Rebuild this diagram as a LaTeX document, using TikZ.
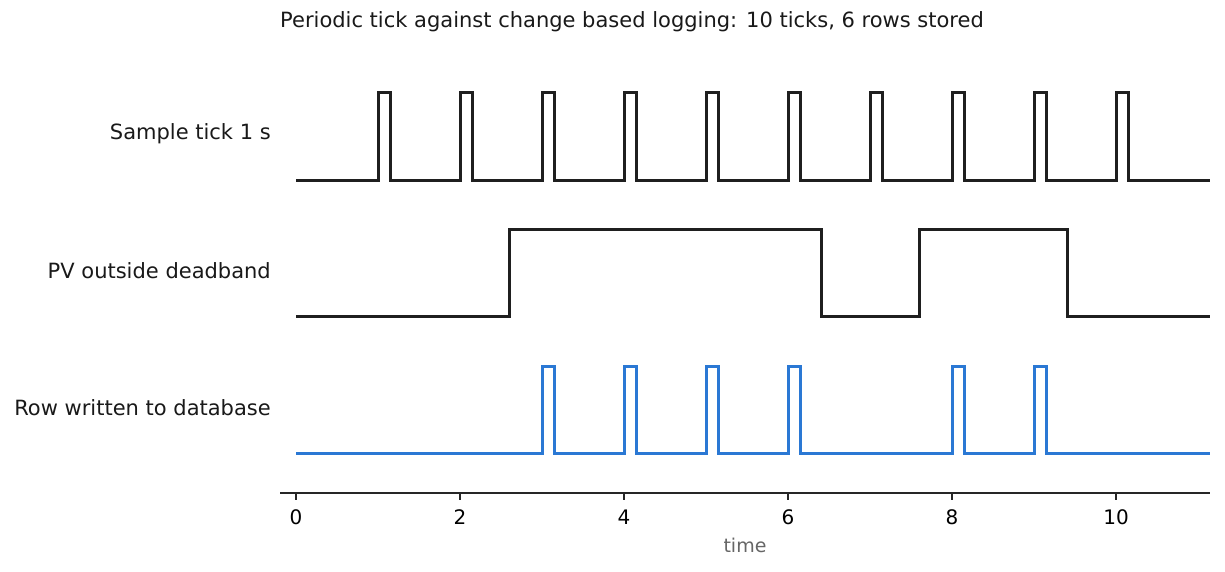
\documentclass[tikz,border=0pt]{standalone}
\usepackage{fontspec}
\setmainfont{DejaVu Sans}
\begin{document}
\begin{tikzpicture}[x=1pt,y=-1pt,
  sig/.style={line width=3pt,color=black!88},
  sigb/.style={line width=3pt,color={rgb,255:red,42;green,120;blue,212}},
  lab/.style={anchor=east,inner sep=0pt,font=\fontsize{21}{24}\selectfont,text=black!90},
  tl/.style={anchor=center,inner sep=0pt,font=\fontsize{20}{24}\selectfont}]
\useasboundingbox (0,0) rectangle (1225,571);
\def\X#1{296+82*#1}
\node[anchor=west,inner sep=0pt,font=\fontsize{21}{24}\selectfont,text=black!90] (title) at (280,22) {Periodic tick against change based logging: 10 ticks, 6 rows stored};
\node[lab] (l1) at (271,134) {Sample tick 1 s};
\node[lab] (l2) at (271,271) {PV outside deadband};
\node[lab] (l3) at (271,408) {Row written to database};
% tick row
\draw[sig] (296,180)
 \foreach \k in {1,...,10}{ -- ({\X{\k}},180) -- ({\X{\k}},92) -- ({\X{\k}+12},92) -- ({\X{\k}+12},180)} -- (1210,180);
% PV row
\draw[sig] (296,316) -- (509,316) -- (509,229) -- (821,229) -- (821,316) -- (919,316) -- (919,229) -- (1067,229) -- (1067,316) -- (1210,316);
% rows written
\draw[sigb] (296,453)
 \foreach \k in {3,4,5,6,8,9}{ -- ({\X{\k}},453) -- ({\X{\k}},366) -- ({\X{\k}+12},366) -- ({\X{\k}+12},453)} -- (1210,453);
% axis
\draw[line width=1.3pt,black!85] (280,493) coordinate (a0) -- (1210,493) coordinate (a1);
\foreach \v in {0,2,...,10}{
  \draw[line width=1.3pt,black!85] ({\X{\v}},493) -- ({\X{\v}},500);
  \node[tl] (t\v) at ({\X{\v}},517) {\v};
}
\node[inner sep=0pt,font=\fontsize{19}{22}\selectfont,text=black!60] (xl) at (745,545) {time};
\end{tikzpicture}
\end{document}
